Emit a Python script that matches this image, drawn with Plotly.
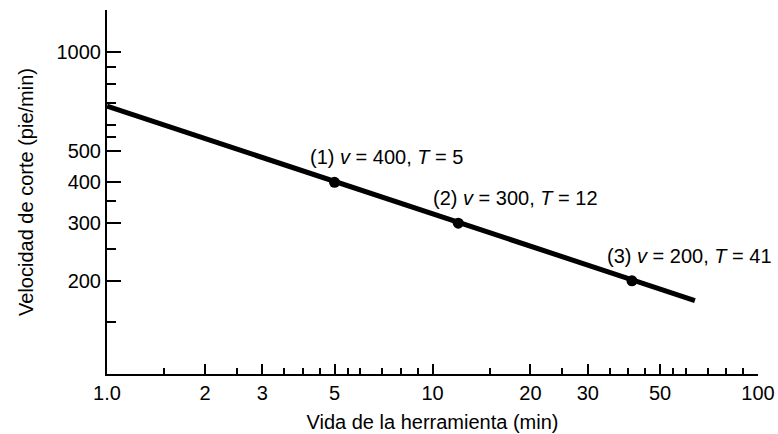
import math
import plotly.graph_objects as go

# Data
point_T = [5, 12, 41]
point_v = [400, 300, 200]
point_labels = ["(1) <i>v</i> = 400, <i>T</i> = 5",
                "(2) <i>v</i> = 300, <i>T</i> = 12",
                "(3) <i>v</i> = 200, <i>T</i> = 41"]
line_T = [1, 64]
line_v = [684, 174]

x_tickvals = [1, 2, 3, 5, 10, 20, 30, 50, 100]
x_ticktext = ["1.0", "2", "3", "5", "10", "20", "30", "50", "100"]
x_minor = [1.5, 2.5, 3.5, 4, 4.5, 5.5, 6, 7, 8, 9,
           15, 25, 35, 40, 45, 55, 60, 70, 80, 90]
y_tickvals = [200, 300, 400, 500, 1000]
y_ticktext = ["200", "300", "400", "500", "1000"]
y_minor = [150, 250, 350, 550, 600, 700, 800, 900]

FONT = "Liberation Sans, Arial, Helvetica, sans-serif"

fig = go.Figure()
fig.add_trace(go.Scatter(x=line_T, y=line_v, mode="lines",
                         line=dict(color="black", width=5),
                         hoverinfo="skip", showlegend=False))
fig.add_trace(go.Scatter(x=point_T, y=point_v, mode="markers",
                         marker=dict(color="black", size=11),
                         showlegend=False, cliponaxis=False))

for T, v, txt in zip(point_T, point_v, point_labels):
    # annotations on log axes are positioned in log10 units
    fig.add_annotation(x=math.log10(T), y=math.log10(v), xref="x", yref="y",
                       text=txt, showarrow=False,
                       xanchor="left", yanchor="middle",
                       xshift=-27, yshift=25,
                       font=dict(family=FONT, size=20, color="black"))

fig.update_xaxes(
    type="log", range=[0, 2],
    tickmode="array", tickvals=x_tickvals, ticktext=x_ticktext,
    ticks="inside", ticklen=10, tickwidth=2, tickcolor="black",
    minor=dict(tickmode="array", tickvals=x_minor, ticks="inside",
               ticklen=6, tickwidth=2, tickcolor="black", showgrid=False),
    showline=True, linecolor="black", linewidth=2,
    showgrid=False, zeroline=False,
    tickfont=dict(family=FONT, size=20, color="black"),
    title=dict(text="Vida de la herramienta (min)", standoff=12,
               font=dict(family=FONT, size=20, color="black")),
)
fig.update_yaxes(
    type="log", range=[2.016, 3.129],
    tickmode="array", tickvals=y_tickvals, ticktext=y_ticktext,
    ticks="inside", ticklen=14, tickwidth=2, tickcolor="black",
    minor=dict(tickmode="array", tickvals=y_minor, ticks="inside",
               ticklen=9, tickwidth=2, tickcolor="black", showgrid=False),
    showline=True, linecolor="black", linewidth=2,
    showgrid=False, zeroline=False,
    tickfont=dict(family=FONT, size=20, color="black"),
    title=dict(text="Velocidad de corte (pie/min)", standoff=18,
               font=dict(family=FONT, size=20, color="black")),
)

fig.update_layout(
    width=778, height=434,
    margin=dict(l=107, r=20, t=10, b=60, autoexpand=False),
    paper_bgcolor="white", plot_bgcolor="white",
    showlegend=False,
)

fig.write_html("out.html",
               config={"displayModeBar": False},
               post_script="document.body.style.margin='0';"
                           "document.body.style.overflow='hidden';")
